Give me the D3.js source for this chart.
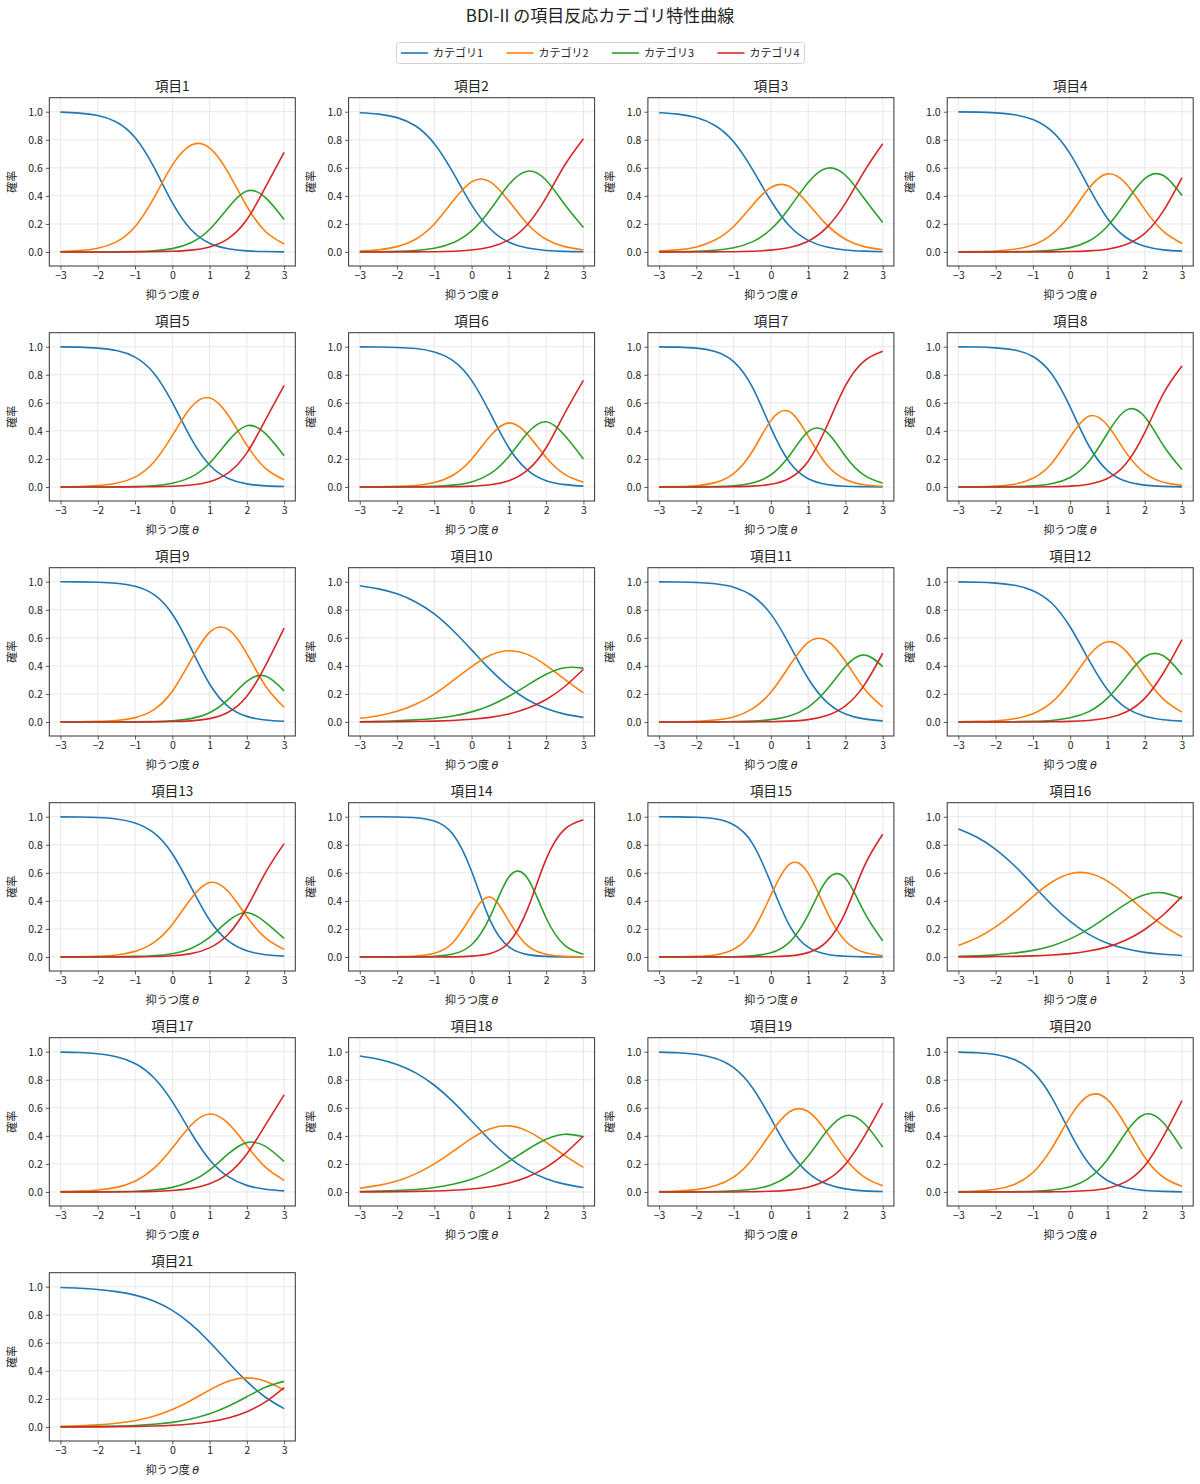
<!DOCTYPE html>
<html>
<head>
<meta charset="utf-8">
<script src="https://cdn.jsdelivr.net/npm/d3@7"></script>
<style>
  body { margin: 0; background: #fff; }
  svg { display: block; }
  text { font-family: "Noto Sans CJK JP", "Noto Sans", "DejaVu Sans", sans-serif; fill: #222; }
</style>
</head>
<body>
<div id="chart"></div>
<script>
// ---------------- data ----------------
const chartTitle = "BDI-II の項目反応カテゴリ特性曲線";
const xLabel = "抑うつ度 ";
const yLabel = "確率";
const categoryNames = ["カテゴリ1", "カテゴリ2", "カテゴリ3", "カテゴリ4"];
const categoryColors = ["#1f77b4", "#ff7f0e", "#2ca02c", "#d62728"];
const itemNames = ["項目1","項目2","項目3","項目4","項目5","項目6","項目7","項目8","項目9","項目10",
  "項目11","項目12","項目13","項目14","項目15","項目16","項目17","項目18","項目19","項目20","項目21"];
const theta = [-3, -2.5, -2, -1.5, -1, -0.5, 0, 0.5, 1, 1.5, 2, 2.5, 3];
const xTicks = [-3, -2, -1, 0, 1, 2, 3];
const yTicks = [0, 0.2, 0.4, 0.6, 0.8, 1.0];

const cat1 = [
  [0.997,0.990,0.973,0.927,0.816,0.608,0.352,0.160,0.062,0.023,0.008,0.003,0.001],
  [0.993,0.983,0.958,0.898,0.772,0.567,0.336,0.164,0.070,0.028,0.011,0.004,0.002],
  [0.993,0.983,0.959,0.902,0.786,0.591,0.365,0.185,0.083,0.035,0.014,0.006,0.002],
  [0.999,0.997,0.992,0.979,0.945,0.863,0.699,0.460,0.239,0.103,0.041,0.015,0.006],
  [0.999,0.997,0.990,0.973,0.926,0.813,0.603,0.348,0.157,0.061,0.022,0.008,0.003],
  [0.999,0.998,0.995,0.987,0.963,0.901,0.760,0.526,0.280,0.120,0.045,0.017,0.006],
  [0.999,0.997,0.990,0.966,0.894,0.713,0.421,0.176,0.059,0.018,0.005,0.002,0.000],
  [0.999,0.998,0.992,0.977,0.930,0.807,0.569,0.294,0.117,0.040,0.013,0.004,0.001],
  [1.000,0.999,0.996,0.989,0.968,0.910,0.770,0.527,0.271,0.110,0.040,0.014,0.005],
  [0.971,0.949,0.914,0.856,0.770,0.652,0.514,0.373,0.252,0.158,0.096,0.056,0.033],
  [0.999,0.998,0.995,0.985,0.961,0.900,0.769,0.550,0.310,0.142,0.057,0.022,0.008],
  [0.999,0.996,0.990,0.975,0.936,0.848,0.677,0.442,0.230,0.101,0.041,0.016,0.006],
  [0.999,0.998,0.994,0.984,0.956,0.886,0.736,0.500,0.264,0.114,0.044,0.016,0.006],
  [1.000,1.000,0.998,0.993,0.969,0.875,0.611,0.259,0.072,0.017,0.004,0.001,0.000],
  [1.000,0.999,0.996,0.985,0.943,0.812,0.527,0.224,0.070,0.019,0.005,0.001,0.000],
  [0.912,0.854,0.768,0.652,0.514,0.374,0.253,0.161,0.098,0.058,0.033,0.019,0.011],
  [0.997,0.994,0.985,0.964,0.916,0.816,0.644,0.424,0.230,0.109,0.047,0.020,0.008],
  [0.969,0.946,0.909,0.849,0.761,0.644,0.506,0.367,0.247,0.156,0.095,0.056,0.032],
  [0.997,0.993,0.982,0.953,0.886,0.745,0.524,0.294,0.136,0.056,0.022,0.008,0.003],
  [0.997,0.993,0.980,0.944,0.856,0.676,0.422,0.203,0.082,0.030,0.011,0.004,0.001],
  [0.994,0.989,0.980,0.965,0.940,0.898,0.831,0.733,0.606,0.462,0.325,0.212,0.131]
];
const cat2 = [
  [0.003,0.010,0.027,0.072,0.180,0.382,0.619,0.761,0.742,0.566,0.326,0.146,0.057],
  [0.006,0.015,0.038,0.091,0.200,0.363,0.500,0.500,0.363,0.200,0.091,0.038,0.015],
  [0.006,0.015,0.036,0.085,0.182,0.332,0.460,0.467,0.344,0.193,0.091,0.038,0.016],
  [0.001,0.003,0.007,0.019,0.050,0.124,0.267,0.454,0.557,0.486,0.304,0.147,0.061],
  [0.001,0.003,0.010,0.026,0.070,0.176,0.366,0.568,0.636,0.511,0.298,0.133,0.051],
  [0.001,0.002,0.004,0.011,0.032,0.084,0.198,0.363,0.457,0.375,0.210,0.090,0.034],
  [0.001,0.003,0.009,0.031,0.096,0.253,0.473,0.537,0.362,0.158,0.054,0.016,0.005],
  [0.001,0.002,0.007,0.020,0.062,0.168,0.357,0.505,0.440,0.245,0.099,0.034,0.012],
  [0.000,0.001,0.004,0.011,0.031,0.086,0.219,0.441,0.639,0.660,0.487,0.257,0.105],
  [0.026,0.045,0.076,0.126,0.199,0.295,0.395,0.476,0.508,0.482,0.404,0.304,0.207],
  [0.001,0.002,0.005,0.014,0.036,0.093,0.212,0.401,0.567,0.581,0.433,0.239,0.107],
  [0.001,0.004,0.009,0.023,0.059,0.139,0.289,0.473,0.572,0.505,0.326,0.163,0.070],
  [0.001,0.002,0.005,0.014,0.040,0.102,0.232,0.415,0.531,0.467,0.288,0.136,0.054],
  [0.000,0.000,0.002,0.006,0.026,0.103,0.296,0.427,0.255,0.081,0.020,0.004,0.001],
  [0.000,0.001,0.004,0.014,0.055,0.179,0.441,0.662,0.598,0.324,0.114,0.033,0.009],
  [0.082,0.136,0.214,0.316,0.431,0.533,0.594,0.597,0.541,0.442,0.328,0.223,0.142],
  [0.003,0.006,0.014,0.033,0.077,0.166,0.313,0.476,0.556,0.489,0.330,0.177,0.083],
  [0.027,0.047,0.078,0.129,0.200,0.289,0.382,0.451,0.471,0.434,0.354,0.259,0.175],
  [0.003,0.007,0.017,0.044,0.106,0.234,0.421,0.572,0.574,0.425,0.237,0.108,0.044],
  [0.003,0.007,0.019,0.054,0.139,0.309,0.537,0.688,0.659,0.470,0.248,0.105,0.040],
  [0.005,0.008,0.015,0.027,0.045,0.076,0.124,0.189,0.263,0.326,0.350,0.326,0.263]
];
const cat3 = [
  [0.000,0.000,0.000,0.001,0.003,0.008,0.024,0.066,0.160,0.316,0.435,0.388,0.231],
  [0.001,0.002,0.004,0.010,0.026,0.065,0.150,0.301,0.481,0.576,0.511,0.338,0.175],
  [0.001,0.002,0.005,0.012,0.030,0.072,0.162,0.316,0.496,0.597,0.547,0.383,0.210],
  [0.000,0.000,0.001,0.002,0.005,0.012,0.031,0.078,0.184,0.358,0.523,0.545,0.403],
  [0.000,0.000,0.000,0.001,0.003,0.009,0.026,0.070,0.169,0.327,0.437,0.380,0.222],
  [0.000,0.000,0.001,0.002,0.005,0.013,0.036,0.095,0.218,0.385,0.465,0.367,0.200],
  [0.000,0.000,0.001,0.003,0.008,0.028,0.087,0.225,0.395,0.391,0.219,0.084,0.027],
  [0.000,0.000,0.001,0.003,0.008,0.023,0.068,0.181,0.383,0.548,0.501,0.296,0.124],
  [0.000,0.000,0.000,0.000,0.001,0.003,0.008,0.024,0.066,0.161,0.290,0.327,0.221],
  [0.002,0.005,0.008,0.015,0.025,0.042,0.072,0.118,0.183,0.263,0.340,0.387,0.384],
  [0.000,0.000,0.000,0.001,0.003,0.006,0.017,0.043,0.106,0.231,0.395,0.478,0.395],
  [0.000,0.000,0.001,0.002,0.005,0.011,0.030,0.074,0.170,0.323,0.465,0.472,0.337],
  [0.000,0.000,0.001,0.002,0.004,0.009,0.023,0.061,0.140,0.257,0.317,0.247,0.132],
  [0.000,0.000,0.000,0.001,0.005,0.021,0.087,0.289,0.570,0.561,0.278,0.083,0.020],
  [0.000,0.000,0.000,0.001,0.002,0.008,0.030,0.106,0.301,0.548,0.561,0.322,0.116],
  [0.005,0.009,0.015,0.028,0.047,0.079,0.129,0.200,0.289,0.379,0.443,0.457,0.415],
  [0.000,0.000,0.001,0.003,0.005,0.014,0.033,0.076,0.156,0.271,0.352,0.325,0.217],
  [0.003,0.006,0.011,0.018,0.032,0.055,0.091,0.145,0.218,0.303,0.376,0.412,0.394],
  [0.000,0.000,0.001,0.003,0.008,0.019,0.050,0.121,0.256,0.434,0.544,0.490,0.320],
  [0.000,0.000,0.001,0.002,0.005,0.014,0.038,0.099,0.232,0.426,0.554,0.494,0.307],
  [0.001,0.002,0.004,0.006,0.011,0.019,0.033,0.057,0.094,0.148,0.216,0.283,0.325]
];
const cat4 = [
  [0.000,0.000,0.000,0.000,0.001,0.002,0.005,0.013,0.036,0.095,0.231,0.463,0.711],
  [0.000,0.000,0.000,0.001,0.002,0.005,0.014,0.035,0.086,0.196,0.387,0.620,0.808],
  [0.000,0.000,0.000,0.001,0.002,0.005,0.013,0.032,0.077,0.175,0.348,0.573,0.772],
  [0.000,0.000,0.000,0.000,0.000,0.001,0.003,0.008,0.020,0.053,0.132,0.293,0.530],
  [0.000,0.000,0.000,0.000,0.001,0.002,0.005,0.014,0.038,0.101,0.243,0.479,0.724],
  [0.000,0.000,0.000,0.000,0.000,0.002,0.006,0.016,0.045,0.120,0.280,0.526,0.760],
  [0.000,0.000,0.000,0.000,0.002,0.006,0.019,0.062,0.184,0.433,0.722,0.898,0.968],
  [0.000,0.000,0.000,0.000,0.000,0.002,0.006,0.020,0.060,0.167,0.387,0.666,0.863],
  [0.000,0.000,0.000,0.000,0.000,0.001,0.003,0.008,0.024,0.069,0.183,0.402,0.669],
  [0.001,0.001,0.002,0.003,0.006,0.011,0.019,0.033,0.057,0.097,0.160,0.253,0.376],
  [0.000,0.000,0.000,0.000,0.000,0.001,0.002,0.006,0.017,0.046,0.115,0.261,0.490],
  [0.000,0.000,0.000,0.000,0.000,0.002,0.004,0.011,0.028,0.071,0.168,0.349,0.587],
  [0.000,0.000,0.000,0.000,0.000,0.003,0.009,0.024,0.065,0.162,0.351,0.601,0.808],
  [0.000,0.000,0.000,0.000,0.000,0.001,0.006,0.025,0.103,0.341,0.698,0.912,0.979],
  [0.000,0.000,0.000,0.000,0.000,0.001,0.002,0.008,0.031,0.109,0.320,0.644,0.875],
  [0.001,0.001,0.003,0.004,0.008,0.014,0.024,0.042,0.072,0.121,0.196,0.301,0.432],
  [0.000,0.000,0.000,0.000,0.002,0.004,0.010,0.024,0.058,0.131,0.271,0.478,0.692],
  [0.001,0.001,0.002,0.004,0.007,0.012,0.021,0.037,0.064,0.107,0.175,0.273,0.399],
  [0.000,0.000,0.000,0.000,0.000,0.002,0.005,0.013,0.034,0.085,0.197,0.394,0.633],
  [0.000,0.000,0.000,0.000,0.000,0.001,0.003,0.010,0.027,0.074,0.187,0.397,0.652],
  [0.000,0.001,0.001,0.002,0.004,0.007,0.012,0.021,0.037,0.064,0.109,0.179,0.281]
];
const categorySeries = [cat1, cat2, cat3, cat4];

// ---------------- layout ----------------
const W = 1200, H = 1484;
const nCols = 4;
const panelW = 246, panelH = 168.3;
const colLeft0 = 49.3, colStep = 299.3;
const rowTop0 = 97.7, rowStep = 235;

const svg = d3.select("#chart").append("svg")
  .attr("width", W).attr("height", H)
  .attr("viewBox", `0 0 ${W} ${H}`);
svg.append("rect").attr("width", W).attr("height", H).attr("fill", "#fff");

// title
svg.append("text")
  .attr("x", 600).attr("y", 22)
  .attr("text-anchor", "middle")
  .attr("font-size", 17)
  .text(chartTitle);

// legend
const legend = svg.append("g");
legend.append("rect")
  .attr("x", 396.5).attr("y", 42.5).attr("width", 408).attr("height", 21)
  .attr("rx", 3).attr("fill", "#fff").attr("stroke", "#d2d2d2").attr("stroke-width", 1);
categoryNames.forEach((name, i) => {
  const x0 = 401 + i * 105.5;
  legend.append("line")
    .attr("x1", x0).attr("x2", x0 + 27).attr("y1", 53).attr("y2", 53)
    .attr("stroke", categoryColors[i]).attr("stroke-width", 1.6);
  legend.append("text")
    .attr("x", x0 + 32).attr("y", 53).attr("dy", "0.36em")
    .attr("font-size", 11)
    .text(name);
});

const x = d3.scaleLinear().domain([-3.3, 3.3]).range([0, panelW]);
const y = d3.scaleLinear().domain([-0.1, 1.1]).range([panelH, 0]);

const line = d3.line()
  .x(d => x(d[0]))
  .y(d => y(d[1]))
  .curve(d3.curveNatural);

const minusFmt = d => (d < 0 ? "\u2212" + Math.abs(d) : String(d));

itemNames.forEach((name, idx) => {
  const c = idx % nCols, r = Math.floor(idx / nCols);
  const g = svg.append("g")
    .attr("transform", `translate(${colLeft0 + c * colStep},${rowTop0 + r * rowStep})`);

  // grid
  g.append("g").selectAll("line").data(xTicks).join("line")
    .attr("x1", d => x(d)).attr("x2", d => x(d))
    .attr("y1", 0).attr("y2", panelH)
    .attr("stroke", "#e2e2e2").attr("stroke-width", 0.8);
  g.append("g").selectAll("line").data(yTicks).join("line")
    .attr("y1", d => y(d)).attr("y2", d => y(d))
    .attr("x1", 0).attr("x2", panelW)
    .attr("stroke", "#e2e2e2").attr("stroke-width", 0.8);

  // curves
  categorySeries.forEach((series, k) => {
    const pts = theta.map((t, j) => [t, series[idx][j]]);
    g.append("path")
      .attr("d", line(pts))
      .attr("fill", "none")
      .attr("stroke", categoryColors[k])
      .attr("stroke-width", 1.6)
      .attr("stroke-linejoin", "round");
  });

  // frame
  g.append("rect")
    .attr("x", 0).attr("y", 0).attr("width", panelW).attr("height", panelH)
    .attr("fill", "none").attr("stroke", "#333").attr("stroke-width", 1);

  // axes
  const xa = g.append("g").attr("transform", `translate(0,${panelH})`)
    .call(d3.axisBottom(x).tickValues(xTicks).tickSize(3.5).tickPadding(2.5).tickFormat(minusFmt));
  const ya = g.append("g")
    .call(d3.axisLeft(y).tickValues(yTicks).tickSize(3.5).tickPadding(3).tickFormat(d3.format(".1f")));
  [xa, ya].forEach(a => {
    a.select(".domain").remove();
    a.selectAll(".tick line").attr("stroke", "#333").attr("stroke-width", 0.8);
    a.selectAll(".tick text")
      .attr("font-size", 10.5)
      .attr("fill", "#222")
      .style("font-family", '"Noto Sans CJK JP", "DejaVu Sans", sans-serif');
  });

  // panel title
  g.append("text")
    .attr("x", panelW / 2).attr("y", -6.5)
    .attr("text-anchor", "middle")
    .attr("font-size", 13.5)
    .text(name);

  // x label
  const xl = g.append("text")
    .attr("x", panelW / 2).attr("y", panelH + 33)
    .attr("text-anchor", "middle")
    .attr("font-size", 11);
  xl.append("tspan").text(xLabel);
  xl.append("tspan").attr("font-style", "italic").style("font-family", '"DejaVu Sans", sans-serif').text("θ");

  // y label
  g.append("text")
    .attr("transform", `translate(-33.5,${panelH / 2}) rotate(-90)`)
    .attr("text-anchor", "middle")
    .attr("font-size", 11)
    .text(yLabel);
});
</script>
</body>
</html>
